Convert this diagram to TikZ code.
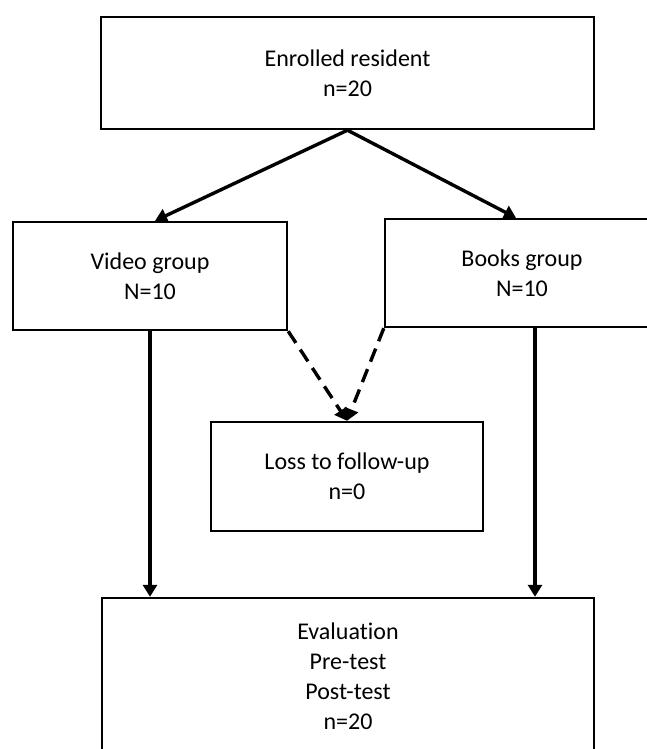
\documentclass[tikz,border=0pt]{standalone}
\usepackage{fontspec}
\setmainfont[Ligatures=NoCommon]{Carlito}
\usetikzlibrary{arrows.meta,calc}
\tikzset{
  box/.style={draw=black, line width=2.4pt, fill=white, align=center, inner sep=0pt,
    font=\fontsize{24}{30}\selectfont},
  arr/.style={line width=3.4pt, -{Triangle[length=12pt,width=14pt]}},
  darr/.style={arr, dash pattern=on 14pt off 8pt},
}
\begin{document}
\begin{tikzpicture}[x=1pt,y=-1pt]
\useasboundingbox (0,0) rectangle (647,749);
\fill[white] (0,0) rectangle (647,749);
\clip (0,0) rectangle (647,749);
\node[box, minimum width=493pt, minimum height=112pt] (top) at (347.5,73) {Enrolled resident\\n=20};
\node[box, minimum width=274pt, minimum height=108pt] (video) at (150,276) {Video group\\N=10};
\node[box, minimum width=274pt, minimum height=108pt] (books) at (522,273) {Books group\\N=10};
\node[box, minimum width=272pt, minimum height=109pt] (loss) at (347,476.5) {Loss to follow-up\\n=0};
\node[box, minimum width=492pt, minimum height=157pt] (eval) at (348,676.5) {Evaluation\\Pre-test\\Post-test\\n=20};
\coordinate (vtip) at ($(video.north)+(5,0)$);
\coordinate (btip) at ($(books.north)+(-6,0)$);
\coordinate (bdown) at ($(books.south)+(13,0)$);
\draw[arr] (top.south) -- (vtip);
\draw[arr] (top.south) -- (btip);
\draw[arr] (video.south) -- (video.south |- eval.north);
\draw[arr] (bdown) -- (bdown |- eval.north);
\draw[darr] (video.south east) -- (loss.north);
\draw[darr] (books.south west) -- (loss.north);
\end{tikzpicture}
\end{document}
